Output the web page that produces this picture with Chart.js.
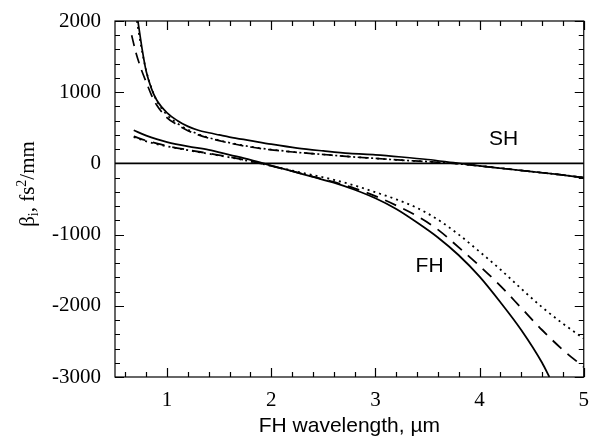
<!DOCTYPE html>
<html>
<head>
<meta charset="utf-8">
<script src="https://cdn.jsdelivr.net/npm/chart.js@4"></script>
<style>
html,body{margin:0;padding:0;background:#fff;}
#wrap{width:592px;height:439px;position:relative;}
</style>
</head>
<body>
<div id="wrap"><canvas id="c" width="592" height="439"></canvas></div>
<script>
// ---- data ----
const xTicks = [1, 2, 3, 4, 5];
const yTicks = [-3000, -2000, -1000, 0, 1000, 2000];

const shSolidX = [0.72,0.76,0.8,0.85,0.9,1.0,1.1,1.2,1.3,1.4,1.5,1.6,1.8,2.0,2.25,2.5,2.75,3.0,3.25,3.5,3.75,4.0,4.25,4.5,4.75,5.0];
const shSolidY = [2000,1610,1290,1050,890,710,600,520,465,430,400,370,320,270,215,175,140,120,90,55,10,-35,-75,-115,-155,-200];

const shDashX = [0.66,0.7,0.75,0.8,0.85,0.9,1.0,1.1,1.2,1.3,1.4,1.5,1.6,1.8,2.0,2.25,2.5,2.75,3.0,3.25,3.5,3.75,4.0,4.25,4.5,4.75,5.0];
const shDashY = [1800,1560,1330,1140,960,820,640,540,460,400,355,320,285,230,190,155,125,95,70,45,25,0,-35,-75,-115,-155,-200];

const shDotX = [0.71,0.75,0.8,0.85,0.9,1.0,1.1,1.2,1.3,1.4,1.5,1.6,1.8,2.0,2.25,2.5,2.75,3.0,3.25,3.5,3.75,4.0,4.25,4.5,4.75,5.0];
const shDotY = [2000,1650,1300,1060,880,680,560,475,410,360,325,290,235,195,155,125,95,70,45,25,0,-35,-75,-115,-155,-200];

const fhSolidX = [0.68,0.8,0.9,1.0,1.2,1.4,1.6,1.8,2.0,2.2,2.4,2.6,2.8,3.0,3.2,3.4,3.6,3.8,4.0,4.2,4.4,4.6,4.67];
const fhSolidY = [465,390,340,300,240,190,120,50,-30,-110,-190,-270,-370,-490,-640,-830,-1040,-1290,-1590,-1950,-2340,-2800,-3000];

const fhDashX = [0.68,0.8,0.9,1.0,1.2,1.4,1.6,1.8,2.0,2.2,2.4,2.6,2.8,3.0,3.2,3.4,3.6,3.8,4.0,4.2,4.4,4.6,4.8,5.0];
const fhDashY = [380,320,280,245,190,140,90,30,-35,-110,-185,-260,-350,-460,-590,-740,-930,-1180,-1440,-1720,-2030,-2340,-2620,-2860];

const fhDotX = [0.68,0.8,0.9,1.0,1.2,1.4,1.6,1.8,2.0,2.2,2.4,2.6,2.8,3.0,3.2,3.4,3.6,3.8,4.0,4.2,4.4,4.6,4.8,5.0];
const fhDotY = [370,310,270,240,185,135,85,28,-35,-100,-165,-230,-310,-405,-505,-625,-790,-1000,-1240,-1490,-1760,-2020,-2250,-2460];

const zeroX = [0.5, 5];
const zeroY = [0, 0];

const pts = (xs, ys) => xs.map((x, i) => ({x: x, y: ys[i]}));

const serif = 'Liberation Serif';
const sans = 'Liberation Sans';

const frame = {
  id: 'frame',
  afterDraw(chart) {
    const ctx = chart.ctx;
    const xs = chart.scales.x, ys = chart.scales.y;
    const a = chart.chartArea;
    ctx.save();
    ctx.strokeStyle = '#000';
    ctx.lineWidth = 1.2;
    ctx.strokeRect(a.left, a.top, a.right - a.left, a.bottom - a.top);
    for (let k = 3; k <= 25; k++) {
      const v = k / 5;
      const px = Math.round(xs.getPixelForValue(v)) + 0.5;
      const major = (k % 5 === 0);
      const len = major ? 9 : 5;
      ctx.beginPath();
      ctx.moveTo(px, a.bottom); ctx.lineTo(px, a.bottom - len);
      ctx.moveTo(px, a.top); ctx.lineTo(px, a.top + len);
      ctx.stroke();
    }
    for (let v = -3000; v <= 2000; v += 200) {
      const py = Math.round(ys.getPixelForValue(v)) + 0.5;
      const major = (v % 1000 === 0);
      const len = major ? 9 : 5;
      ctx.beginPath();
      ctx.moveTo(a.left, py); ctx.lineTo(a.left + len, py);
      ctx.moveTo(a.right, py); ctx.lineTo(a.right - len, py);
      ctx.stroke();
    }
    ctx.fillStyle = '#000';
    ctx.font = '21px "' + sans + '"';
    ctx.textAlign = 'center';
    ctx.textBaseline = 'middle';
    ctx.fillText('SH', xs.getPixelForValue(4.23), ys.getPixelForValue(340));
    ctx.fillText('FH', xs.getPixelForValue(3.52), ys.getPixelForValue(-1440));
    ctx.translate(27, 184);
    ctx.rotate(-Math.PI / 2);
    ctx.textBaseline = 'alphabetic';
    ctx.textAlign = 'left';
    const parts = [
      {t: 'β', f: '21px "' + serif + '"', dy: 0},
      {t: 'i', f: '14px "' + serif + '"', dy: 4},
      {t: ', fs', f: '21px "' + serif + '"', dy: 0},
      {t: '2', f: '14px "' + serif + '"', dy: -8},
      {t: '/mm', f: '21px "' + serif + '"', dy: 0}
    ];
    let w = 0;
    parts.forEach(p => { ctx.font = p.f; w += ctx.measureText(p.t).width; });
    let cx = -w / 2;
    parts.forEach(p => { ctx.font = p.f; ctx.fillText(p.t, cx, 7 + p.dy); cx += ctx.measureText(p.t).width; });
    ctx.restore();
  }
};

new Chart(document.getElementById('c'), {
  type: 'scatter',
  data: {
    datasets: [
      {data: pts(zeroX, zeroY), borderColor: '#000', borderWidth: 1.6},
      {data: pts(shSolidX, shSolidY), borderColor: '#000', borderWidth: 1.7},
      {data: pts(shDashX, shDashY), borderColor: '#000', borderWidth: 1.7, borderDash: [11, 7]},
      {data: pts(shDotX, shDotY), borderColor: '#000', borderWidth: 1.7, borderDash: [2, 4]},
      {data: pts(fhSolidX, fhSolidY), borderColor: '#000', borderWidth: 1.8},
      {data: pts(fhDashX, fhDashY), borderColor: '#000', borderWidth: 1.8, borderDash: [12, 8]},
      {data: pts(fhDotX, fhDotY), borderColor: '#000', borderWidth: 1.8, borderDash: [2, 4]}
    ].map(d => Object.assign({showLine: true, pointRadius: 0, tension: 0.3, cubicInterpolationMode: 'monotone', fill: false}, d))
  },
  options: {
    responsive: false,
    animation: false,
    events: [],
    clip: true,
    layout: {padding: {left: 0, right: 8, top: 21, bottom: 0}},
    plugins: {legend: {display: false}, tooltip: {enabled: false}},
    scales: {
      x: {
        type: 'linear', min: 0.5, max: 5,
        afterBuildTicks: s => { s.ticks = xTicks.map(v => ({value: v})); },
        afterFit: s => { s.height = 62; },
        grid: {display: false},
        border: {display: false},
        ticks: {color: '#000', font: {family: serif, size: 21}, padding: 3, maxRotation: 0, callback: v => String(v)},
        title: {display: true, text: 'FH wavelength, µm', color: '#000', font: {family: sans, size: 21}, padding: {top: 0, bottom: 0}}
      },
      y: {
        type: 'linear', min: -3000, max: 2000,
        afterBuildTicks: s => { s.ticks = yTicks.map(v => ({value: v})); },
        afterFit: s => { s.width = 115; },
        grid: {display: false},
        border: {display: false},
        ticks: {color: '#000', font: {family: serif, size: 21}, padding: 6, callback: v => String(v)}
      }
    }
  },
  plugins: [frame]
});
</script>
</body>
</html>
